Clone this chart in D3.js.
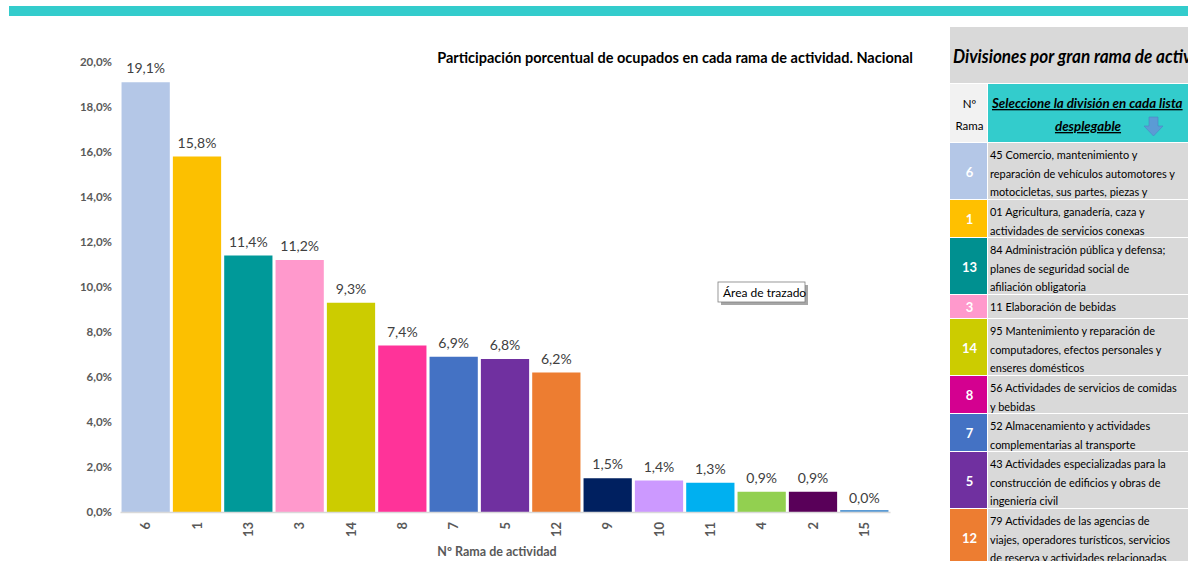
<!DOCTYPE html>
<html>
<head>
<meta charset="utf-8">
<script src="https://cdn.jsdelivr.net/npm/d3@7"></script>
<style>
  html, body { margin: 0; padding: 0; background: #ffffff; }
  svg { display: block; }
  text { font-family: Lato, "Open Sans", sans-serif; }
</style>
</head>
<body>
<svg id="chart" width="1188" height="561"></svg>
<script>
// Rama (branch) numbers, in bar order
const ramas = ["6", "1", "13", "3", "14", "8", "7", "5", "12", "9", "10", "11", "4", "2", "15"];
// Share of employed people per branch (%)
const shares = [19.1, 15.8, 11.4, 11.2, 9.3, 7.4, 6.9, 6.8, 6.2, 1.5, 1.4, 1.3, 0.9, 0.9, 0.0];
// Bar colours per branch
const barColors = ["#b4c7e7", "#fcc000", "#009999", "#ff99cc", "#cccc00", "#ff3399", "#4472c4",
                   "#7030a0", "#ed7d31", "#002060", "#cc99ff", "#00b0f0", "#92d050", "#590059", "#5b9bd5"];
// Y axis ticks (%)
const yTicks = [0, 2, 4, 6, 8, 10, 12, 14, 16, 18, 20];

// Side table: selected division per branch
const tableRamas = ["6", "1", "13", "3", "14", "8", "7", "5", "12"];
const tableColors = ["#b4c7e7", "#ffc000", "#009090", "#ff99cc", "#cccc00", "#d40090", "#4472c4", "#7030a0", "#ed7d31"];
const tableLines = [
  ["45 Comercio, mantenimiento y", "reparación de vehículos automotores y", "motocicletas, sus partes, piezas y"],
  ["01 Agricultura, ganadería, caza y", "actividades de servicios conexas"],
  ["84 Administración pública y defensa;", "planes de seguridad social de", "afiliación obligatoria"],
  ["11 Elaboración de bebidas"],
  ["95 Mantenimiento y reparación de", "computadores, efectos personales y", "enseres domésticos"],
  ["56 Actividades de servicios de comidas", "y bebidas"],
  ["52 Almacenamiento y actividades", "complementarias al transporte"],
  ["43 Actividades especializadas para la", "construcción de edificios y obras de", "ingeniería civil"],
  ["79 Actividades de las agencias de", "viajes, operadores turísticos, servicios", "de reserva y actividades relacionadas"]
];

const fmt = v => v.toFixed(1).replace(".", ",") + "%";

// Narrow a text horizontally by factor k (keeps glyph height)
function condense(sel, k) {
  sel.each(function () {
    const w = this.getComputedTextLength();
    d3.select(this).attr("textLength", w * k).attr("lengthAdjust", "spacingAndGlyphs");
  });
}

const svg = d3.select("#chart");

// Top teal band
svg.append("rect").attr("x", 9).attr("y", 6).attr("width", 1179).attr("height", 10).attr("fill", "#33cccc");

// ---------- Bar chart ----------
const x = d3.scaleBand().domain(ramas).range([120, 890]).paddingInner(0.06).paddingOuter(0.03);
const y = d3.scaleLinear().domain([0, 20]).range([512, 62]);

// Title
svg.append("text")
  .attr("x", 675).attr("y", 63)
  .attr("text-anchor", "middle")
  .attr("font-size", 14.5).attr("font-weight", "bold").attr("fill", "#000")
  .text("Participación porcentual de ocupados en cada rama de actividad. Nacional");

// Y axis labels
const yAxis = d3.axisLeft(y).tickValues(yTicks).tickSize(0).tickPadding(8).tickFormat(fmt);
const gy = svg.append("g").attr("transform", "translate(120,0)").call(yAxis);
gy.select(".domain").remove();
gy.selectAll("text")
  .attr("font-size", 11.5).attr("font-weight", "bold").attr("fill", "#595959")
  .attr("font-family", "Lato, sans-serif");

// Bars
svg.append("g").selectAll("rect")
  .data(ramas)
  .join("rect")
  .attr("x", d => x(d))
  .attr("width", x.bandwidth())
  .attr("y", (d, i) => y(shares[i]))
  .attr("height", (d, i) => y(0) - y(shares[i]))
  .attr("fill", (d, i) => barColors[i]);

// Zero-height bar outline so branch 15 remains visible
svg.append("g").selectAll("line")
  .data(ramas.filter((d, i) => shares[i] === 0))
  .join("line")
  .attr("x1", d => x(d)).attr("x2", d => x(d) + x.bandwidth())
  .attr("y1", y(0) - 1).attr("y2", y(0) - 1)
  .attr("stroke", d => barColors[ramas.indexOf(d)]).attr("stroke-width", 2);

// X axis line + rotated labels
const xAxis = d3.axisBottom(x).tickSize(0).tickPadding(0);
const gx = svg.append("g").attr("transform", "translate(0,512)").call(xAxis);
gx.select(".domain").attr("stroke", "#d9d9d9").attr("stroke-width", 1.5);
gx.selectAll("text")
  .attr("transform", "rotate(-90)")
  .attr("text-anchor", "end")
  .attr("x", -10).attr("y", 0).attr("dy", "0.35em")
  .attr("font-size", 13).attr("font-weight", "bold").attr("fill", "#595959")
  .attr("font-family", "Lato, sans-serif");

// Value labels
svg.append("g").selectAll("text")
  .data(ramas)
  .join("text")
  .attr("x", d => x(d) + x.bandwidth() / 2)
  .attr("y", (d, i) => y(shares[i]) - 9)
  .attr("text-anchor", "middle")
  .attr("font-size", 14).attr("fill", "#404040")
  .text((d, i) => fmt(shares[i]));

// X axis title
svg.append("text")
  .attr("x", 497).attr("y", 556).attr("text-anchor", "middle")
  .attr("font-size", 12.5).attr("font-weight", "bold").attr("fill", "#595959")
  .text("Nº Rama de actividad");

// Plot-area hint box
const hint = svg.append("g").attr("transform", "translate(718,282)");
hint.append("rect").attr("x", 3).attr("y", 3).attr("width", 87).attr("height", 20).attr("fill", "#a6a6a6");
hint.append("rect").attr("width", 87).attr("height", 20).attr("fill", "#fff").attr("stroke", "#7f7f7f").attr("stroke-width", 0.8);
hint.append("text").attr("x", 5).attr("y", 14.5).attr("font-size", 12).attr("fill", "#000").text("Área de trazado");

// ---------- Side table ----------
const tX = 950, c1W = 37, c2X = 988;
svg.append("rect").attr("x", tX).attr("y", 27).attr("width", 1188 - tX).attr("height", 56).attr("fill", "#d9d9d9");
svg.append("text")
  .attr("x", 953).attr("y", 63)
  .attr("font-size", 18).attr("font-weight", "bold").attr("font-style", "italic").attr("fill", "#000")
  .text("Divisiones por gran rama de actividad")
  .call(condense, 0.95);

// Header row
svg.append("rect").attr("x", tX).attr("y", 84).attr("width", c1W).attr("height", 58).attr("fill", "#f2f2f2");
svg.append("rect").attr("x", c2X).attr("y", 84).attr("width", 1188 - c2X).attr("height", 58).attr("fill", "#33cccc");
svg.append("text").attr("x", tX + c1W / 2 + 1).attr("y", 108).attr("text-anchor", "middle")
  .attr("font-size", 11.5).attr("fill", "#000").text("Nº");
svg.append("text").attr("x", tX + c1W / 2 + 1).attr("y", 130).attr("text-anchor", "middle")
  .attr("font-size", 11.5).attr("fill", "#000").text("Rama");
svg.append("text").attr("x", 992).attr("y", 108)
  .attr("font-size", 13.3).attr("font-weight", "bold").attr("font-style", "italic")
  .attr("text-decoration", "underline").attr("fill", "#000")
  .text("Seleccione la división en cada lista");
svg.append("text").attr("x", 1088).attr("y", 131).attr("text-anchor", "middle")
  .attr("font-size", 13.3).attr("font-weight", "bold").attr("font-style", "italic")
  .attr("text-decoration", "underline").attr("fill", "#000")
  .text("desplegable");
// Down arrow
svg.append("path")
  .attr("d", "M1149,117 h9 v9 h5 l-9.5,10 l-9.5,-10 h5 z")
  .attr("fill", "#5b9bd5").attr("stroke", "#4a86c5").attr("stroke-width", 0.6);

// Body rows
let rowY = 143;
tableRamas.forEach((r, i) => {
  const lines = tableLines[i];
  const h = Math.max(24, 19 * lines.length);
  svg.append("rect").attr("x", tX).attr("y", rowY).attr("width", c1W).attr("height", h - 1).attr("fill", tableColors[i]);
  svg.append("rect").attr("x", c2X).attr("y", rowY).attr("width", 1188 - c2X).attr("height", h - 1).attr("fill", "#d9d9d9");
  svg.append("text").attr("x", tX + c1W / 2 + 1).attr("y", rowY + h / 2 + 5)
    .attr("text-anchor", "middle").attr("font-size", 13).attr("font-weight", "bold").attr("fill", "#fff").text(r);
  lines.forEach((ln, j) => {
    svg.append("text").attr("x", 990).attr("y", rowY + 16 + j * 18.7)
      .attr("font-size", 12.3).attr("fill", "#000").text(ln)
      .call(condense, 0.89);
  });
  rowY += h;
});
</script>
</body>
</html>
